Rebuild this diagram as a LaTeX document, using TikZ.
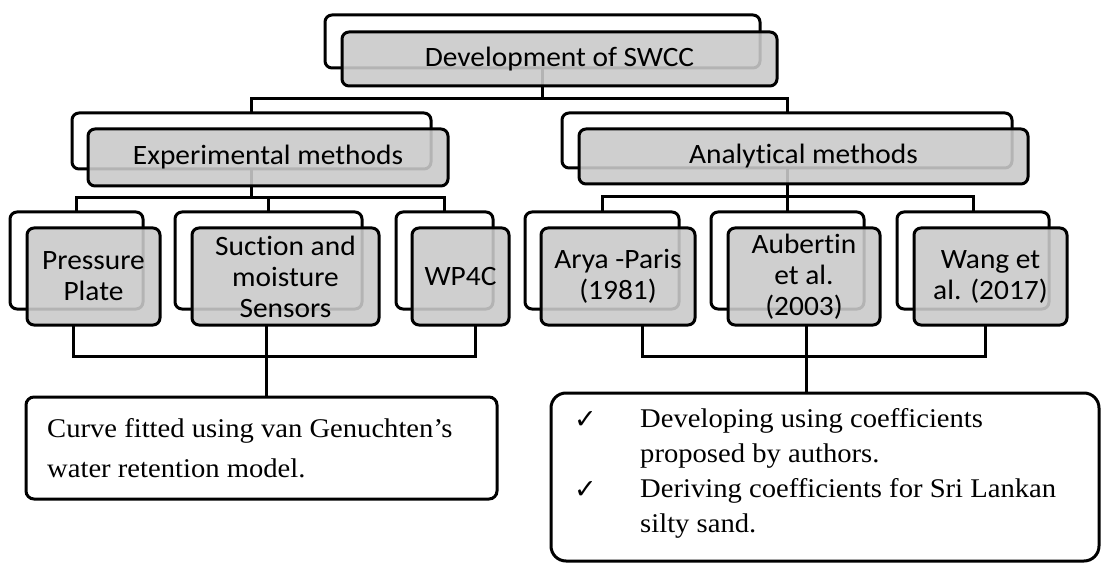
\documentclass[tikz,border=0pt]{standalone}
\usepackage{fontspec}
\setmainfont{Carlito}[FakeStretch=1.05, Ligatures=NoCommon]
\newfontfamily\tnr{Liberation Serif}[FakeStretch=1.06]
\newfontfamily\dejavu{DejaVu Sans}
\definecolor{boxgray}{RGB}{202,202,202}
\begin{document}
\begin{tikzpicture}[x=1pt,y=-1pt,
  backbox/.style={draw=black, line width=3pt, fill=white, rounded corners=7pt,
    anchor=north west, inner sep=0pt, outer sep=0pt},
  frontbox/.style={draw=black, line width=3pt, fill=boxgray, fill opacity=0.89,
    text opacity=1, rounded corners=7pt, anchor=north west, inner sep=0pt, outer sep=0pt},
  notebox/.style={draw=black, line width=3pt, fill=white, anchor=north west,
    inner sep=0pt, outer sep=0pt},
  conn/.style={draw=black, line width=3pt, line join=miter},
  lbl/.style={align=center, inner sep=0pt, font=\fontsize{28}{31}\selectfont},
  serif/.style={align=left, inner sep=0pt, anchor=base west},
  tick/.style={inner sep=0pt, anchor=base west, font=\dejavu\fontsize{27}{30}\selectfont}
]
\fill[white] (0,0) rectangle (1101,564);
\useasboundingbox (0,0) rectangle (1101,564);

% ---------- back boxes ----------
\node[backbox, minimum width=435pt, minimum height=53pt] (swccB) at (325,15) {};
\node[backbox, minimum width=359pt, minimum height=56pt] (expB) at (72,113) {};
\node[backbox, minimum width=450pt, minimum height=55pt] (anaB) at (562,113) {};
\node[backbox, minimum width=133pt, minimum height=97pt] (prB) at (10,212) {};
\node[backbox, minimum width=187pt, minimum height=97pt] (suB) at (175,212) {};
\node[backbox, minimum width=97pt, minimum height=97pt] (wpB) at (396,212) {};
\node[backbox, minimum width=154pt, minimum height=97pt] (arB) at (525,212) {};
\node[backbox, minimum width=153pt, minimum height=97pt] (auB) at (711,212) {};
\node[backbox, minimum width=152pt, minimum height=97pt] (waB) at (897,212) {};

% ---------- junction coordinates ----------
\coordinate (j0) at (543,99);
\coordinate (j1) at (251,198);
\coordinate (j2) at (787,197);
\coordinate (k1) at (73,356);
\coordinate (k2) at (266,356);
\coordinate (k3) at (475,356);
\coordinate (k4) at (642,356);
\coordinate (k5) at (806,356);
\coordinate (k6) at (985,356);

% ---------- bottom note boxes ----------
\node[notebox, rounded corners=8pt, minimum width=471pt, minimum height=102pt] (noteL) at (26,397) {};
\node[notebox, rounded corners=15pt, minimum width=548pt, minimum height=168pt] (noteR) at (551,393) {};

% ---------- connectors ----------
\draw[conn] (swccB.south) -- (swccB.south |- j0);
\draw[conn] (expB.north) -- (expB.north |- j0) -- (anaB.north |- j0) -- (anaB.north);

\draw[conn] (expB.south) -- (expB.south |- j1);
\draw[conn] (prB.north) -- (prB.north |- j1) -- (wpB.north |- j1) -- (wpB.north);
\draw[conn] (suB.north) -- (suB.north |- j1);

\draw[conn] (anaB.south) -- (anaB.south |- j2);
\draw[conn] (arB.north) -- (arB.north |- j2) -- (waB.north |- j2) -- (waB.north);
\draw[conn] (auB.north) -- (auB.north |- j2);

% ---------- front boxes ----------
\node[frontbox, minimum width=435pt, minimum height=54pt] (swccF) at (342,32) {};
\node[frontbox, minimum width=360pt, minimum height=57pt] (expF) at (88,129) {};
\node[frontbox, minimum width=449pt, minimum height=55pt] (anaF) at (579,129) {};
\node[frontbox, minimum width=133pt, minimum height=97pt] (prF) at (27,228) {};
\node[frontbox, minimum width=187pt, minimum height=97pt] (suF) at (192,228) {};
\node[frontbox, minimum width=97pt, minimum height=97pt] (wpF) at (412,228) {};
\node[frontbox, minimum width=154pt, minimum height=97pt] (arF) at (541,228) {};
\node[frontbox, minimum width=152pt, minimum height=97pt] (auF) at (728,228) {};
\node[frontbox, minimum width=153pt, minimum height=97pt] (waF) at (914,228) {};

% ---------- bottom connectors ----------
\draw[conn] (prF.south -| k1) -- (k1) -- (k3) -- (wpF.south -| k3);
\draw[conn] (suF.south -| k2) -- (noteL.north -| k2);
\draw[conn] (arF.south -| k4) -- (k4) -- (k6) -- (waF.south -| k6);
\draw[conn] (auF.south -| k5) -- (noteR.north -| k5);

% ---------- labels ----------
\node[lbl] (swccT) at (swccF.center) {Development of SWCC};
\node[lbl] (expT) at (expF.center) {Experimental methods};
\node[lbl] (anaT) at (anaF.center) {Analytical methods};
\node[lbl] (prT) at (prF.center) {Pressure\\Plate};
\node[lbl] (suT) at (suF.center) {Suction and\\moisture\\Sensors};
\node[lbl] (wpT) at (wpF.center) {WP4C};
\node[lbl] (arT) at (arF.center) {Arya -Paris\\(1981)};
\node[lbl] (auT) at (auF.center) {Aubertin\\et al.\\(2003)};
\node[lbl] (waT) at (waF.center) {Wang et\\al. (2017)};

% multi-line nodes: base anchor = baseline of the last line
\node[serif, font=\tnr\fontsize{27}{40}\selectfont] (noteLT) at (47,477)
  {Curve fitted using van Genuchten’s\\water retention model.};
\node[tick] (tick1) at (574,428) {✓};
\node[tick] (tick2) at (574,498) {✓};
\node[serif, font=\tnr\fontsize{27}{35}\selectfont] (noteRT) at (640,532)
  {Developing using coefficients\\proposed by authors.\\Deriving coefficients for Sri Lankan\\silty sand.};
\end{tikzpicture}
\end{document}
